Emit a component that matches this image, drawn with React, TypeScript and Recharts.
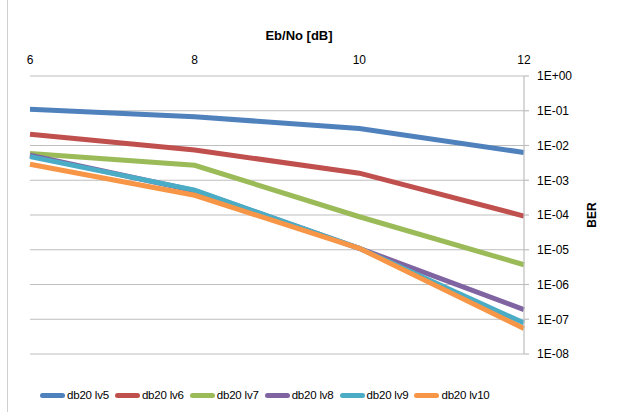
import { LineChart, Line, XAxis, YAxis, CartesianGrid } from 'recharts'

const snr = [6, 8, 10, 12]
const lv5 = [1.1e-1, 6.7e-2, 3.1e-2, 6.3e-3]
const lv6 = [2.1e-2, 7.4e-3, 1.6e-3, 9.3e-5]
const lv7 = [5.9e-3, 2.7e-3, 8.9e-5, 3.7e-6]
const lv8 = [5.3e-3, 5.0e-4, 1.1e-5, 1.9e-7]
const lv9 = [4.8e-3, 5.2e-4, 1.1e-5, 7.8e-8]
const lv10 = [2.9e-3, 3.7e-4, 1.1e-5, 5.4e-8]
const berTicks = [1e-8, 1e-7, 1e-6, 1e-5, 1e-4, 1e-3, 1e-2, 1e-1, 1]

const series = [
    { key: 'lv5', name: 'db20 lv5', values: lv5, color: '#4F81BD' },
    { key: 'lv6', name: 'db20 lv6', values: lv6, color: '#C0504D' },
    { key: 'lv7', name: 'db20 lv7', values: lv7, color: '#9BBB59' },
    { key: 'lv8', name: 'db20 lv8', values: lv8, color: '#8064A2' },
    { key: 'lv9', name: 'db20 lv9', values: lv9, color: '#4BACC6' },
    { key: 'lv10', name: 'db20 lv10', values: lv10, color: '#F79646' },
]

const data = snr.map((x, i) => {
    const row: any = { snr: x }
    series.forEach((s) => (row[s.key] = s.values[i]))
    return row
})

const fmtExp = (v: number) => {
    const e = Math.round(Math.log10(v))
    const sign = e < 0 ? '-' : '+'
    return `1E${sign}${String(Math.abs(e)).padStart(2, '0')}`
}

const font = '"Liberation Sans", Arial, sans-serif'

export default function App() {
    return (
        <div style={{ position: 'absolute', left: 0, top: 0, width: 617, height: 412, background: '#fff', fontFamily: font }}>
            <div style={{ position: 'absolute', left: 7, top: 0, width: 1, height: 412, background: '#D0D0D0' }} />
            <LineChart width={617} height={412} data={data} margin={{ top: 46, right: 33, bottom: 58, left: 30 }}>
                <CartesianGrid vertical={false} stroke="#BEBEBE" strokeWidth={1.2} />
                <XAxis
                    dataKey="snr"
                    type="number"
                    domain={[6, 12]}
                    ticks={snr}
                    orientation="top"
                    height={30}
                    axisLine={false}
                    tickLine={false}
                    tickSize={0}
                    tickMargin={12}
                    tick={{ fill: '#000', fontSize: 12, fontFamily: font }}
                />
                <YAxis
                    orientation="right"
                    scale="log"
                    domain={[1e-8, 1]}
                    ticks={berTicks}
                    allowDataOverflow
                    width={60}
                    tickFormatter={fmtExp}
                    axisLine={{ stroke: '#BEBEBE', strokeWidth: 1.2 }}
                    tickLine={{ stroke: '#BEBEBE', strokeWidth: 1.2 }}
                    tickSize={5}
                    tickMargin={8}
                    tick={{ fill: '#000', fontSize: 12, fontFamily: font }}
                />
                {series.map((s) => (
                    <Line
                        key={s.key}
                        dataKey={s.key}
                        name={s.name}
                        stroke={s.color}
                        strokeWidth={5}
                        dot={false}
                        type="linear"
                        isAnimationActive={false}
                    />
                ))}
            </LineChart>
            <div style={{ position: 'absolute', left: 0, top: 28, width: 598, textAlign: 'center', fontWeight: 'bold', fontSize: 13 }}>
                Eb/No [dB]
            </div>
            <div
                style={{
                    position: 'absolute',
                    left: 592,
                    top: 215,
                    transform: 'translate(-50%, -50%) rotate(-90deg)',
                    fontWeight: 'bold',
                    fontSize: 12,
                }}
            >
                BER
            </div>
            <div style={{ position: 'absolute', left: 40, top: 389, display: 'flex', alignItems: 'center', fontSize: 11.5, letterSpacing: -0.2, whiteSpace: 'nowrap' }}>
                {series.map((s) => (
                    <div key={s.key} style={{ display: 'flex', alignItems: 'center', marginRight: 6 }}>
                        <div style={{ width: 25, height: 5, borderRadius: 3, background: s.color, marginRight: 2 }} />
                        <span>{s.name}</span>
                    </div>
                ))}
            </div>
        </div>
    )
}
